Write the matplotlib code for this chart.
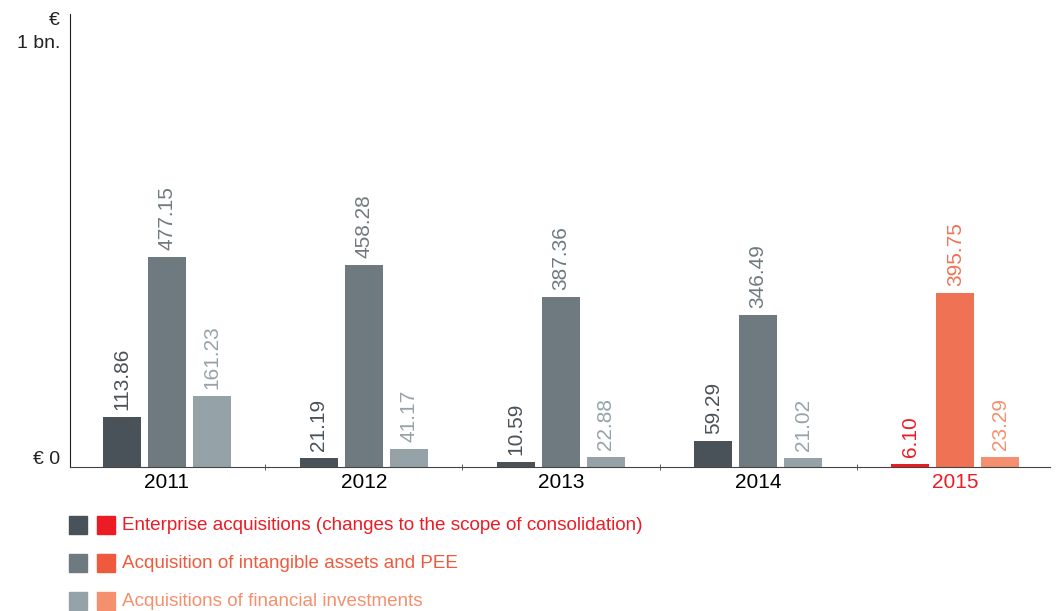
import numpy as np
import matplotlib.pyplot as plt
from matplotlib.patches import Rectangle

plt.rcParams['font.family'] = ['Liberation Sans', 'DejaVu Sans']

years = ["2011", "2012", "2013", "2014", "2015"]
enterprise = [113.86, 21.19, 10.59, 59.29, 6.10]
intangible = [477.15, 458.28, 387.36, 346.49, 395.75]
financial = [161.23, 41.17, 22.88, 21.02, 23.29]
labels = ["Enterprise acquisitions (changes to the scope of consolidation)",
          "Acquisition of intangible assets and PEE",
          "Acquisitions of financial investments"]

grey = ["#4a5259", "#6f7a80", "#95a3a9"]
red = ["#ec1c24", "#f07254", "#f4906f"]
legend_red = ["#ec1c24", "#f05a3c", "#f4906e"]

fig = plt.figure(figsize=(10.58, 6.11), dpi=100)
ax = fig.add_axes([70/1058, 1 - 467/611, (1050-70)/1058, (467-14)/611])

x = np.arange(len(years))
w = 0.193
off = 0.228
series = [enterprise, intangible, financial]
for i, vals in enumerate(series):
    cols = [grey[i]] * 4 + [red[i]]
    pos = x + (i - 1) * off
    ax.bar(pos, vals, width=w, color=cols, zorder=2)
    for p, v, c in zip(pos, vals, cols):
        ax.annotate(f"{v:.2f}", (p, v), xytext=(0, 7), textcoords="offset pixels",
                    rotation=90, ha="center", va="bottom", fontsize=15, color=c)

ax.set_xlim(-0.49, 4.48)
ax.set_ylim(0, 1030)
for s in ["top", "right"]:
    ax.spines[s].set_visible(False)
ax.spines["left"].set_color("#222222")
ax.spines["bottom"].set_color("#444444")

ax.set_xticks(x)
ax.set_xticklabels(years, fontsize=15)
ax.get_xticklabels()[-1].set_color("#ec1c24")
ax.tick_params(axis="x", which="major", length=0, pad=4)
ax.set_xticks(x[:-1] + 0.5, minor=True)
ax.tick_params(axis="x", which="minor", length=4, direction="inout", color="#444444")

# y labels placed by hand
ax.set_yticks([])
ytxt = [("€ 0", 16), ("1 bn.", 964), ("€", 1016)]
for s, v in ytxt:
    ax.annotate(s, (0, v), xycoords=("axes fraction", "data"), xytext=(-10, 0),
                textcoords="offset pixels", ha="right", va="center", fontsize=14,
                color="#222222")

# legend drawn by hand
rows_y = [525, 563, 601]
for i, yy in enumerate(rows_y):
    yf = 1 - yy / 611
    hs = 18 / 611
    fig.patches.append(Rectangle((69/1058, yf - hs/2), 18/1058, hs,
                                 transform=fig.transFigure, color=grey[i]))
    fig.patches.append(Rectangle((97/1058, yf - hs/2), 18/1058, hs,
                                 transform=fig.transFigure, color=legend_red[i]))
    fig.text(122/1058, yf, labels[i], color=legend_red[i], fontsize=13.6, va="center")

fig.savefig("out.png", dpi=100)
